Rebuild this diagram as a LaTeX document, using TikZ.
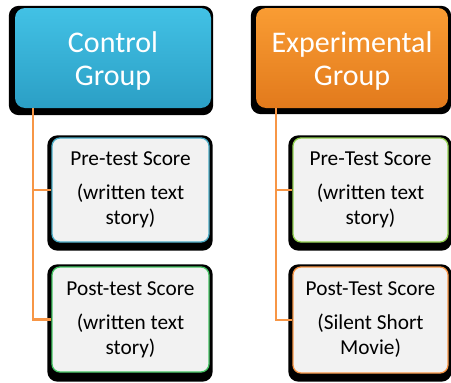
\documentclass[tikz,border=0pt]{standalone}
\usepackage{fontspec}
\setmainfont{Carlito}
\usetikzlibrary{backgrounds}
\definecolor{ctltop}{HTML}{42C1E5}
\definecolor{ctlbot}{HTML}{2B9FC5}
\definecolor{exptop}{HTML}{F99C33}
\definecolor{expbot}{HTML}{E27A1C}
\definecolor{subfill}{HTML}{F2F2F2}
\definecolor{bblue}{HTML}{4BACC6}
\definecolor{bgreen}{HTML}{45C464}
\definecolor{blgreen}{HTML}{92D050}
\definecolor{borange}{HTML}{F79646}
\definecolor{conncol}{HTML}{F79646}
\begin{document}
\begin{tikzpicture}[x=1pt,y=-1pt,
  headbox/.style={rounded corners=10pt, minimum height=100pt, inner sep=0pt},
  headtext/.style={inner sep=0pt, text=white, align=center, font=\fontsize{30}{33}\selectfont},
  subbox/.style={rounded corners=8pt, fill=subfill, line width=1.3pt,
    minimum width=157pt, inner sep=0pt, align=center, text=black,
    font=\fontsize{21.3}{25}\selectfont},
  shadowbox/.style={fill=black, rounded corners=10pt},
  conn/.style={draw=conncol, line width=2.6pt}]
\useasboundingbox (0,0) rectangle (451,383);
% headers
\node[headbox, top color=ctltop, bottom color=ctlbot, minimum width=196pt] (ctl) at (113,58) {};
\node[headtext] (ctltext) at ([yshift=-3pt]ctl.center) {Control\\Group};
\node[headbox, top color=exptop, bottom color=expbot, minimum width=192pt] (exp) at (352,58) {};
\node[headtext] (exptext) at ([yshift=-3pt]exp.center) {Experimental\\Group};
% sub boxes
\node[subbox, draw=bblue, minimum height=104pt] (pre1) at (130.5,190) {Pre-test Score\\[9pt](written text\\story)};
\node[subbox, draw=bgreen, minimum height=105pt] (post1) at (130.5,319.5) {Post-test Score\\[9pt](written text\\story)};
\node[subbox, draw=blgreen, minimum width=155pt, minimum height=104pt] (pre2) at (370.5,190) {Pre-Test Score\\[9pt](written text\\story)};
\node[subbox, draw=borange, minimum width=155pt, minimum height=106pt] (post2) at (370.5,320) {Post-Test Score\\[9pt](Silent Short\\Movie)};
\begin{pgfonlayer}{background}
\fill[shadowbox] ([shift={(-6,-2)}]ctl.north west) rectangle ([shift={(2,7)}]ctl.south east);
\fill[shadowbox] ([shift={(-5,-2)}]exp.north west) rectangle ([shift={(3,6)}]exp.south east);
\fill[shadowbox] ([shift={(-4,-2)}]pre1.north west) rectangle ([shift={(3,8)}]pre1.south east);
\fill[shadowbox] ([shift={(-4,-2)}]post1.north west) rectangle ([shift={(3,9)}]post1.south east);
\fill[shadowbox] ([shift={(-4,-2)}]pre2.north west) rectangle ([shift={(3,8)}]pre2.south east);
\fill[shadowbox] ([shift={(-4,-2)}]post2.north west) rectangle ([shift={(3,8)}]post2.south east);
\end{pgfonlayer}
% connectors
\draw[conn] ([xshift=18pt]ctl.south west) |- (pre1.west);
\draw[conn] ([xshift=18pt]ctl.south west) |- (post1.west);
\draw[conn] ([xshift=20pt]exp.south west) |- (pre2.west);
\draw[conn] ([xshift=20pt]exp.south west) |- (post2.west);
\end{tikzpicture}
\end{document}
